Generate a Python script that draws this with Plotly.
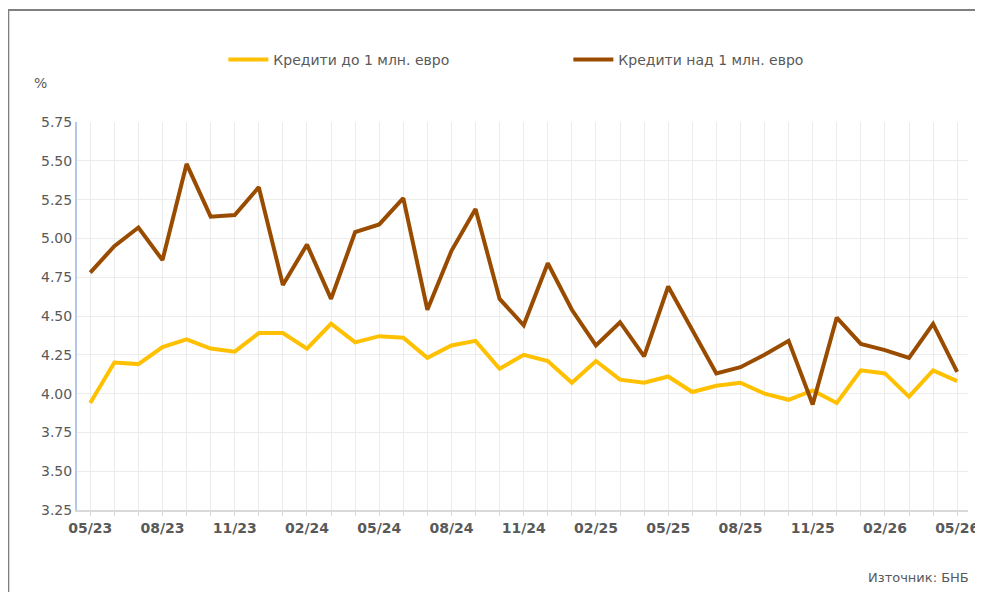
import plotly.graph_objects as go

months = ["05/23", "06/23", "07/23", "08/23", "09/23", "10/23", "11/23", "12/23",
          "01/24", "02/24", "03/24", "04/24", "05/24", "06/24", "07/24", "08/24",
          "09/24", "10/24", "11/24", "12/24", "01/25", "02/25", "03/25", "04/25",
          "05/25", "06/25", "07/25", "08/25", "09/25", "10/25", "11/25", "12/25",
          "01/26", "02/26", "03/26", "04/26", "05/26"]

small_loans = [3.94, 4.20, 4.19, 4.30, 4.35, 4.29, 4.27, 4.39, 4.39, 4.29, 4.45, 4.33,
               4.37, 4.36, 4.23, 4.31, 4.34, 4.16, 4.25, 4.21, 4.07, 4.21, 4.09, 4.07,
               4.11, 4.01, 4.05, 4.07, 4.00, 3.96, 4.02, 3.94, 4.15, 4.13, 3.98, 4.15, 4.08]

large_loans = [4.78, 4.95, 5.07, 4.86, 5.48, 5.14, 5.15, 5.33, 4.70, 4.96, 4.61, 5.04,
               5.09, 5.26, 4.54, 4.92, 5.19, 4.61, 4.44, 4.84, 4.54, 4.31, 4.46, 4.24,
               4.69, 4.41, 4.13, 4.17, 4.25, 4.34, 3.93, 4.49, 4.32, 4.28, 4.23, 4.45, 4.14]

x = list(range(len(months)))
grey = "#595959"
font_family = "DejaVu Sans, Verdana, sans-serif"

fig = go.Figure()

fig.add_trace(go.Scatter(
    x=x, y=small_loans, mode="lines", name="Кредити до 1 млн. евро",
    line=dict(color="#FFC000", width=4)
))
fig.add_trace(go.Scatter(
    x=x, y=large_loans, mode="lines", name="Кредити над 1 млн. евро",
    line=dict(color="#994C00", width=4)
))

OFF = 8
L, T, W, H = 77 - OFF, 122 - OFF, 895, 388
bottom = T + H

# outer frame (left and top edges visible)
fig.add_shape(
    type="rect", xref="paper", yref="paper",
    x0=(8 - OFF - L) / W, x1=1.2, y0=-0.5, y1=(bottom - (10 - OFF)) / H,
    line=dict(color="#7f7f7f", width=2), fillcolor="rgba(0,0,0,0)", layer="below"
)

fig.update_layout(
    width=983, height=592,
    margin=dict(l=L, r=983 - L - W, t=T, b=592 - bottom),
    paper_bgcolor="white", plot_bgcolor="white",
    font=dict(family=font_family, size=14, color=grey),
    showlegend=True,
    legend=dict(
        orientation="h", x=(224 - OFF - L) / W, xanchor="left",
        y=(bottom - (60 - OFF)) / H, yanchor="middle",
        entrywidth=290, entrywidthmode="pixels",
        font=dict(size=14, color=grey), itemwidth=40
    ),
    annotations=[
        dict(text="%", xref="paper", yref="paper", x=(40 - OFF - L) / W,
             y=(bottom - (83 - OFF)) / H,
             showarrow=False, font=dict(size=14, color=grey), xanchor="center", yanchor="middle"),
        dict(text="Източник: БНБ", xref="paper", yref="paper", x=(870 - OFF - L) / W,
             y=(bottom - (577 - OFF)) / H, showarrow=False, xanchor="left", yanchor="middle",
             font=dict(size=13, color=grey)),
    ],
)

fig.update_xaxes(
    range=[-0.55, len(months) - 0.55],
    tickmode="array", tickvals=x[::3], ticktext=[f"<b>{m}</b>" for m in months[::3]],
    tickfont=dict(size=14, color=grey),
    showgrid=True, gridcolor="#ececec", gridwidth=1,
    showline=True, linecolor="#d9d9d9", linewidth=2,
    ticks="outside", ticklen=4, tickcolor="#d9d9d9",
    minor=dict(dtick=1, tick0=0, showgrid=True, gridcolor="#ececec",
               ticks="outside", ticklen=4, tickcolor="#d9d9d9"),
    zeroline=False,
)
fig.update_yaxes(
    range=[3.25, 5.75], dtick=0.25, tick0=3.25, tickformat=".2f",
    tickfont=dict(size=14, color=grey),
    showgrid=True, gridcolor="#ececec", gridwidth=1,
    showline=True, linecolor="#b4c7e7", linewidth=2,
    ticks="", zeroline=False,
)

fig.write_html("out.html")
